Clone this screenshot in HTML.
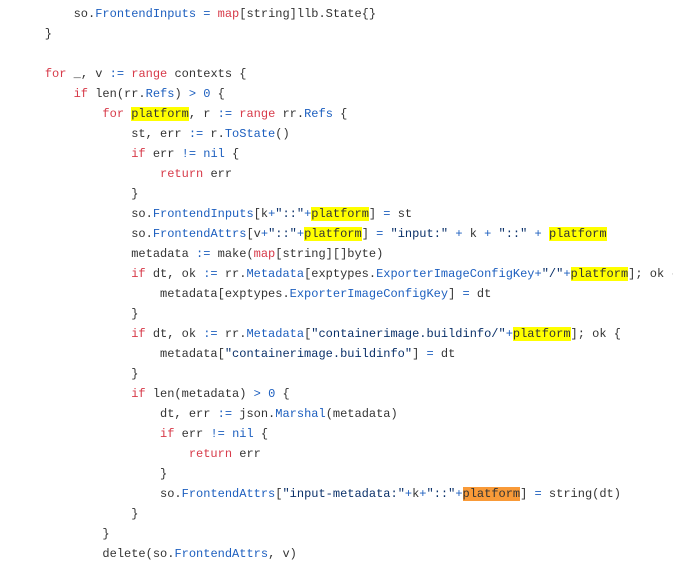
<!DOCTYPE html>
<html><head><meta charset="utf-8"><style>
html,body{margin:0;padding:0;background:#fff;width:673px;height:562px;overflow:hidden}
pre{margin:0;padding:4px 0 0 16px;font-family:"Liberation Mono",monospace;font-size:12px;line-height:20px;color:#333;white-space:pre}
.k{color:#d73a49}.b{color:#1d5fbf}.s{color:#0a3069}
.h{background:#ffff00}.o{background:#f99a38}
</style></head><body><pre>        so.<span class="b">FrontendInputs</span> <span class="b">=</span> <span class="k">map</span>[string]llb.State{}
    }

    <span class="k">for</span> _, v <span class="b">:=</span> <span class="k">range</span> contexts {
        <span class="k">if</span> len(rr.<span class="b">Refs</span>) <span class="b">&gt;</span> <span class="b">0</span> {
            <span class="k">for</span> <span class="h">platform</span>, r <span class="b">:=</span> <span class="k">range</span> rr.<span class="b">Refs</span> {
                st, err <span class="b">:=</span> r.<span class="b">ToState</span>()
                <span class="k">if</span> err <span class="b">!=</span> <span class="b">nil</span> {
                    <span class="k">return</span> err
                }
                so.<span class="b">FrontendInputs</span>[k<span class="b">+</span><span class="s">"::"</span><span class="b">+</span><span class="h">platform</span>] <span class="b">=</span> st
                so.<span class="b">FrontendAttrs</span>[v<span class="b">+</span><span class="s">"::"</span><span class="b">+</span><span class="h">platform</span>] <span class="b">=</span> <span class="s">"input:"</span> <span class="b">+</span> k <span class="b">+</span> <span class="s">"::"</span> <span class="b">+</span> <span class="h">platform</span>
                metadata <span class="b">:=</span> make(<span class="k">map</span>[string][]byte)
                <span class="k">if</span> dt, ok <span class="b">:=</span> rr.<span class="b">Metadata</span>[exptypes.<span class="b">ExporterImageConfigKey</span><span class="b">+</span><span class="s">"/"</span><span class="b">+</span><span class="h">platform</span>]; ok {
                    metadata[exptypes.<span class="b">ExporterImageConfigKey</span>] <span class="b">=</span> dt
                }
                <span class="k">if</span> dt, ok <span class="b">:=</span> rr.<span class="b">Metadata</span>[<span class="s">"containerimage.buildinfo/"</span><span class="b">+</span><span class="h">platform</span>]; ok {
                    metadata[<span class="s">"containerimage.buildinfo"</span>] <span class="b">=</span> dt
                }
                <span class="k">if</span> len(metadata) <span class="b">&gt;</span> <span class="b">0</span> {
                    dt, err <span class="b">:=</span> json.<span class="b">Marshal</span>(metadata)
                    <span class="k">if</span> err <span class="b">!=</span> <span class="b">nil</span> {
                        <span class="k">return</span> err
                    }
                    so.<span class="b">FrontendAttrs</span>[<span class="s">"input-metadata:"</span><span class="b">+</span>k<span class="b">+</span><span class="s">"::"</span><span class="b">+</span><span class="o">platform</span>] <span class="b">=</span> string(dt)
                }
            }
            delete(so.<span class="b">FrontendAttrs</span>, v)
</pre></body></html>
